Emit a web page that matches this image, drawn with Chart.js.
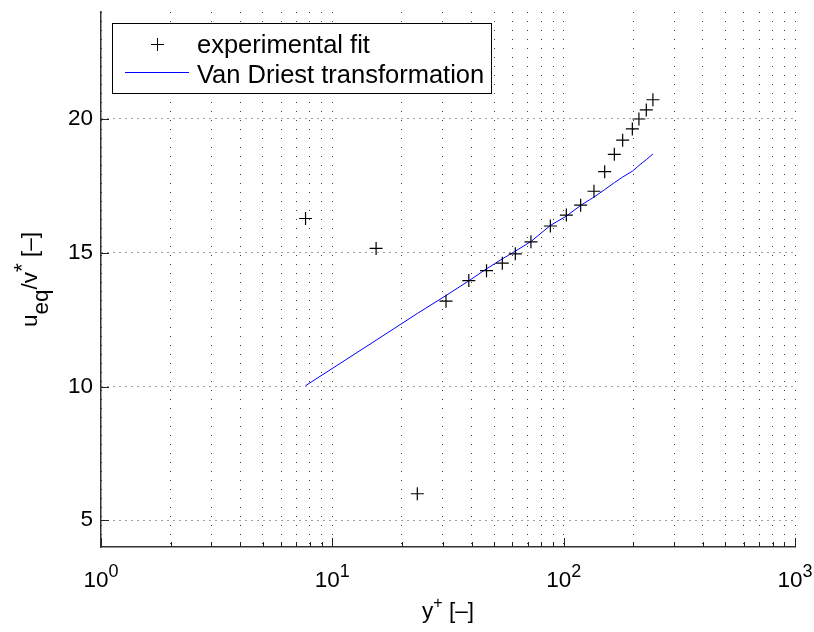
<!DOCTYPE html>
<html>
<head>
<meta charset="utf-8">
<script src="https://cdn.jsdelivr.net/npm/chart.js@4.4.0/dist/chart.umd.min.js"></script>
<style>
  html, body { margin: 0; padding: 0; background: #fff; }
</style>
</head>
<body>
<canvas id="grafica" width="814" height="632"></canvas>
<script>
// Valores de y+ (mismos para ambas series)
const yPlus = [7.66, 15.46, 23.3, 31.0, 38.9, 46.4, 54.3, 61.8, 72.2, 87.6, 102.7, 118.4, 135.2, 150.4, 165.6, 179.9, 198.1, 211.5, 227.6, 243.1];

// Ajuste experimental (cruces)
const ajusteExperimental = [16.28, 15.16, 5.99, 13.19, 13.96, 14.33, 14.61, 14.96, 15.41, 16.0, 16.41, 16.78, 17.3, 18.03, 18.68, 19.21, 19.63, 20.0, 20.34, 20.72];

// Transformación de Van Driest (línea azul)
const vanDriest = [10.03, 11.73, 12.73, 13.4, 13.95, 14.4, 14.77, 15.06, 15.42, 16.02, 16.37, 16.77, 17.08, 17.36, 17.62, 17.83, 18.05, 18.26, 18.48, 18.69];

// Marcas de los ejes
const ticksX = [1, 2, 3, 4, 5, 6, 7, 8, 9, 10, 20, 30, 40, 50, 60, 70, 80, 90, 100, 200, 300, 400, 500, 600, 700, 800, 900, 1000];
const decadasX = [1, 10, 100, 1000];
const ticksY = [5, 10, 15, 20];

const etiquetasLeyenda = ["experimental fit", "Van Driest transformation"];

const FUENTE = '"Liberation Sans", Arial, sans-serif';

// Dibuja un texto con partes desplazadas (sub/superíndices)
function textoCompuesto(ctx, partes, cx) {
  let ancho = 0;
  partes.forEach((p) => {
    ctx.font = `${p.size}px ${FUENTE}`;
    p.w = ctx.measureText(p.t).width;
    ancho += p.w;
  });
  let xx = cx - ancho / 2;
  partes.forEach((p) => {
    ctx.font = `${p.size}px ${FUENTE}`;
    ctx.fillText(p.t, xx, p.dy || 0);
    xx += p.w;
  });
}

// Plugin para marcas hacia adentro, etiquetas 10^n, títulos y leyenda
const decoraciones = {
  id: "decoraciones",
  afterDraw(chart) {
    const { ctx, chartArea, scales } = chart;
    const x = scales.x;
    const y = scales.y;
    ctx.save();

    // marcas de los ejes
    ctx.strokeStyle = "#222";
    ctx.lineWidth = 1;
    ticksX.forEach((v) => {
      const px = Math.round(x.getPixelForValue(v)) + 0.5;
      const largo = decadasX.includes(v) ? 9 : 5;
      ctx.beginPath();
      ctx.moveTo(px, chartArea.bottom);
      ctx.lineTo(px, chartArea.bottom - largo);
      ctx.stroke();
    });
    ticksY.forEach((v) => {
      const py = Math.round(y.getPixelForValue(v)) + 0.5;
      ctx.beginPath();
      ctx.moveTo(chartArea.left, py);
      ctx.lineTo(chartArea.left + 8, py);
      ctx.stroke();
    });

    // etiquetas 10^n del eje x
    ctx.fillStyle = "#000";
    ctx.textAlign = "left";
    ctx.textBaseline = "alphabetic";
    decadasX.forEach((v) => {
      const px = x.getPixelForValue(v);
      ctx.save();
      ctx.translate(0, 587);
      textoCompuesto(ctx, [
        { t: "10", size: 22.5 },
        { t: String(Math.round(Math.log10(v))), size: 18, dy: -10 },
      ], px);
      ctx.restore();
    });

    // título del eje x
    ctx.save();
    ctx.translate(0, 618);
    textoCompuesto(ctx, [
      { t: "y", size: 22.5 },
      { t: "+", size: 16, dy: -10 },
      { t: " [–]", size: 22.5 },
    ], (chartArea.left + chartArea.right) / 2);
    ctx.restore();

    // título del eje y (rotado)
    ctx.save();
    ctx.translate(36.5, (chartArea.top + chartArea.bottom) / 2);
    ctx.rotate(-Math.PI / 2);
    textoCompuesto(ctx, [
      { t: "u", size: 22.5 },
      { t: "eq", size: 22.5, dy: 11 },
      { t: "/v", size: 22.5 },
      { t: "*", size: 22.5, dy: -8 },
      { t: " [–]", size: 22.5 },
    ], 0);
    ctx.restore();

    // leyenda
    ctx.fillStyle = "#fff";
    ctx.fillRect(112.5, 23.5, 379, 70);
    ctx.strokeStyle = "#000";
    ctx.lineWidth = 1;
    ctx.strokeRect(112.5, 23.5, 379, 70);

    ctx.beginPath();
    ctx.moveTo(151, 44.5);
    ctx.lineTo(164, 44.5);
    ctx.moveTo(157.5, 38);
    ctx.lineTo(157.5, 51);
    ctx.stroke();

    ctx.strokeStyle = "#0000ff";
    ctx.beginPath();
    ctx.moveTo(125, 72.5);
    ctx.lineTo(189, 72.5);
    ctx.stroke();

    ctx.fillStyle = "#000";
    ctx.font = `25.5px ${FUENTE}`;
    ctx.fillText(etiquetasLeyenda[0], 197, 53);
    ctx.fillText(etiquetasLeyenda[1], 197, 83);

    ctx.restore();
  },
};

new Chart(document.getElementById("grafica"), {
  type: "scatter",
  data: {
    datasets: [
      {
        label: etiquetasLeyenda[0],
        data: yPlus.map((v, i) => ({ x: v, y: ajusteExperimental[i] })),
        pointStyle: "cross",
        pointRadius: 6.5,
        pointHoverRadius: 6.5,
        borderColor: "#000",
        borderWidth: 1.2,
        showLine: false,
      },
      {
        label: etiquetasLeyenda[1],
        data: yPlus.map((v, i) => ({ x: v, y: vanDriest[i] })),
        pointRadius: 0,
        borderColor: "#0000ff",
        borderWidth: 1,
        showLine: true,
        tension: 0,
      },
    ],
  },
  options: {
    responsive: false,
    animation: false,
    devicePixelRatio: 1,
    layout: { padding: { top: 12, right: 19, left: 0, bottom: 0 } },
    plugins: {
      legend: { display: false },
      tooltip: { enabled: false },
    },
    scales: {
      x: {
        type: "logarithmic",
        min: 1,
        max: 1000,
        afterBuildTicks: (s) => {
          s.ticks = ticksX.map((v) => ({ value: v }));
        },
        afterFit: (s) => {
          s.height = 85;
          s.paddingLeft = 0;
          s.paddingRight = 0;
        },
        ticks: { display: false, autoSkip: false },
        grid: { color: "rgba(0,0,0,0.75)", lineWidth: 1, drawTicks: false },
        border: { display: true, color: "#333", width: 1.5, dash: [1, 8] },
      },
      y: {
        type: "linear",
        min: 4,
        max: 24,
        afterBuildTicks: (s) => {
          s.ticks = ticksY.map((v) => ({ value: v }));
        },
        afterFit: (s) => {
          s.width = 101;
          s.paddingTop = 0;
          s.paddingBottom = 0;
        },
        ticks: {
          autoSkip: false,
          padding: 8,
          color: "#000",
          font: { family: FUENTE, size: 22.5 },
        },
        grid: { color: "rgba(0,0,0,0.75)", lineWidth: 1, drawTicks: false },
        border: { display: true, color: "#333", width: 1.5, dash: [1, 5] },
      },
    },
  },
  plugins: [decoraciones],
});
</script>
</body>
</html>
